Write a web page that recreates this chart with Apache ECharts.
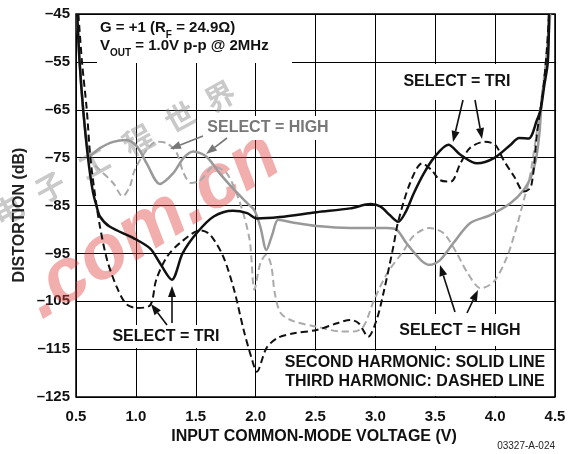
<!DOCTYPE html>
<html>
<head>
<meta charset="utf-8">
<script src="https://cdn.jsdelivr.net/npm/echarts@6/dist/echarts.min.js"></script>
<style>
html,body{margin:0;padding:0;background:#fff;}
#chart{width:575px;height:454px;}
</style>
</head>
<body>
<div id="chart"></div>
<script>
// ---- data (x = input common-mode voltage V, y = distortion dB) ----
const xTicks = [0.5, 1.0, 1.5, 2.0, 2.5, 3.0, 3.5, 4.0, 4.5];
const yTicks = [-125, -115, -105, -95, -85, -75, -65, -55, -45];

// SELECT = TRI, second harmonic (solid black)
const triSecond = [[0.51,-45],[0.53,-55],[0.56,-65],[0.60,-75],[0.64,-82],[0.67,-85],[0.70,-87.3],[0.78,-89.4],[0.98,-91.8],[1.12,-94],[1.20,-97],[1.30,-100.5],[1.39,-95],[1.51,-90.7],[1.65,-87.3],[1.81,-86.1],[1.93,-86.6],[2.01,-87.7],[2.20,-87.4],[2.51,-86.4],[2.79,-85.6],[2.96,-84.7],[3.04,-85.2],[3.12,-87],[3.19,-88.4],[3.25,-86.5],[3.32,-82.5],[3.40,-78.5],[3.49,-75],[3.61,-72.3],[3.71,-74.4],[3.85,-76.2],[3.99,-75.1],[4.13,-72.3],[4.20,-70.9],[4.28,-71],[4.35,-67.1],[4.38,-65],[4.41,-60],[4.44,-55],[4.45,-45]];
// SELECT = TRI, third harmonic (dashed black)
const triThird = [[0.52,-45],[0.55,-55],[0.59,-65],[0.62,-75],[0.66,-83],[0.70,-89.4],[0.76,-96.4],[0.84,-102],[0.92,-105.6],[1.01,-106.4],[1.12,-105.8],[1.17,-100.5],[1.26,-95.7],[1.37,-92.8],[1.54,-90.2],[1.62,-91.1],[1.73,-95.7],[1.82,-102.6],[1.90,-111],[1.97,-117.2],[2.01,-119.7],[2.09,-114.8],[2.18,-112.7],[2.32,-111.7],[2.51,-111],[2.68,-109.6],[2.79,-108.9],[2.86,-109.6],[2.94,-112.4],[3.01,-108.9],[3.07,-103],[3.15,-93.6],[3.19,-88.4],[3.29,-80.3],[3.39,-76.2],[3.47,-77.6],[3.54,-79.7],[3.63,-80],[3.71,-76.2],[3.79,-73],[3.91,-71.7],[4.00,-72.3],[4.07,-75.5],[4.16,-79],[4.24,-82.1],[4.30,-81.1],[4.35,-69.9],[4.40,-61],[4.43,-53],[4.45,-45]];
// SELECT = HIGH, second harmonic (solid gray)
const highSecond = [[0.51,-45],[0.53,-55],[0.56,-65],[0.59,-72],[0.62,-74.5],[0.70,-73],[0.81,-71.7],[0.92,-71.3],[1.01,-72.7],[1.09,-76.2],[1.20,-80.5],[1.31,-78.3],[1.40,-75],[1.48,-73.7],[1.59,-74.8],[1.70,-78.3],[1.82,-81.7],[1.93,-84.5],[1.99,-86],[2.04,-89.5],[2.09,-94.3],[2.14,-91],[2.19,-88],[2.32,-88.6],[2.51,-89.3],[2.79,-89.7],[3.10,-89.7],[3.18,-90.1],[3.26,-92.9],[3.38,-96.4],[3.45,-97.4],[3.54,-96.4],[3.65,-92.9],[3.79,-88.7],[3.96,-87],[4.13,-84.5],[4.24,-81.7],[4.30,-79],[4.34,-75.5],[4.37,-69.9],[4.39,-63],[4.43,-55],[4.46,-45]];
// SELECT = HIGH, third harmonic (dashed gray)
const highThird = [[0.51,-45],[0.53,-55],[0.56,-65],[0.59,-71],[0.62,-75.5],[0.70,-77.6],[0.81,-80.3],[0.89,-83.1],[0.95,-81],[0.99,-77.6],[1.09,-73.4],[1.17,-71.7],[1.26,-72],[1.34,-74],[1.40,-78.3],[1.46,-80.3],[1.54,-79.7],[1.65,-76.9],[1.76,-78.3],[1.87,-84.5],[1.95,-92.2],[1.99,-102.6],[2.04,-97],[2.09,-95.3],[2.13,-97.5],[2.16,-103.3],[2.21,-107.5],[2.32,-109.2],[2.51,-110.3],[2.71,-111.3],[2.82,-111.3],[2.90,-110.3],[2.99,-104.7],[3.10,-99.1],[3.24,-94.3],[3.32,-91.3],[3.45,-89.7],[3.57,-90.8],[3.68,-95],[3.77,-99.1],[3.88,-102.3],[3.99,-100.9],[4.10,-95.7],[4.18,-89.4],[4.24,-83.8],[4.29,-79],[4.34,-71],[4.39,-62],[4.43,-53],[4.45,-45]];

const FONT = 'Liberation Sans, Arial, Helvetica, sans-serif';
const chart = echarts.init(document.getElementById('chart'), null, {renderer: 'canvas'});

function arrow(x1, y1, x2, y2, color) {
  const dx = x2 - x1, dy = y2 - y1, L = Math.sqrt(dx*dx + dy*dy);
  const ux = dx / L, uy = dy / L, hl = 11, hw = 4;
  const bx = x2 - ux*hl, by = y2 - uy*hl;
  return [
    {type: 'line', z: 20, shape: {x1: x1, y1: y1, x2: bx, y2: by}, style: {stroke: color, lineWidth: 1.6}},
    {type: 'polygon', z: 20, shape: {points: [[x2, y2], [bx - uy*hw, by + ux*hw], [bx + uy*hw, by - ux*hw]]}, style: {fill: color}}
  ];
}
function whiteBox(x, y, w, h) {
  return {type: 'rect', z: 1, shape: {x: x, y: y, width: w, height: h}, style: {fill: '#fff'}};
}
function label(text, x, y, color, size, align) {
  return {type: 'text', z: 21, x: x, y: y, style: {text: text, fill: color, font: 'bold ' + (size || 16) + 'px ' + FONT, align: align || 'center', verticalAlign: 'middle'}};
}

const wmChars = ['电', '子', '工', '程', '世', '界'];
const wmPos = [[8, 210], [50, 187], [94, 163], [138, 140], [180, 117], [220, 96]];
const watermark = wmChars.map((c, i) => ({
  type: 'text', z: 1, x: wmPos[i][0], y: wmPos[i][1], rotation: 0.5,
  style: {text: c, fill: 'rgba(120,120,120,0.4)', font: 'bold 30px "Noto Sans CJK SC", sans-serif', align: 'center', verticalAlign: 'middle'}
}));
watermark.push({
  type: 'text', z: 1, x: 152, y: 226, rotation: 0.56,
  style: {text: '.com.cn', fill: 'rgba(225,60,60,0.42)', font: 'italic bold 76px ' + FONT, align: 'center', verticalAlign: 'middle'}
});

const graphics = [].concat(
  watermark,
  [
    whiteBox(97, 15, 195, 48),
    whiteBox(204, 116, 127, 24),
    whiteBox(398, 64, 118, 36),
    whiteBox(110, 325, 112, 23),
    whiteBox(396, 314, 128, 32),
    whiteBox(263, 350.5, 291, 45.5),
    {type: 'text', z: 21, x: 100, y: 30, style: {
      text: '{a|G = +1 (R}{s|F}{a| = 24.9Ω)}', align: 'left', verticalAlign: 'middle',
      rich: {a: {font: 'bold 15px ' + FONT, fill: '#111', lineHeight: 20, verticalAlign: 'top'},
             s: {font: 'bold 10px ' + FONT, fill: '#111', lineHeight: 11, verticalAlign: 'bottom'}}}},
    {type: 'text', z: 21, x: 100, y: 48, style: {
      text: '{a|V}{s|OUT}{a| = 1.0V p-p @ 2MHz}', align: 'left', verticalAlign: 'middle',
      rich: {a: {font: 'bold 15px ' + FONT, fill: '#111', lineHeight: 20, verticalAlign: 'top'},
             s: {font: 'bold 10px ' + FONT, fill: '#111', lineHeight: 11, verticalAlign: 'bottom'}}}},
    label('SELECT = HIGH', 268, 128, '#777'),
    label('SELECT = TRI', 457, 82, '#111'),
    label('SELECT = TRI', 166, 337, '#111'),
    label('SELECT = HIGH', 460, 331, '#111'),
    label('SECOND HARMONIC: SOLID LINE', 415, 363, '#111'),
    label('THIRD HARMONIC: DASHED LINE', 415, 382, '#111'),
    label('INPUT COMMON-MODE VOLTAGE (V)', 314, 437, '#111'),
    {type: 'text', z: 21, x: 20, y: 215, rotation: Math.PI / 2, style: {text: 'DISTORTION (dB)', fill: '#222', font: 'bold 16px ' + FONT, align: 'center', verticalAlign: 'middle'}},
    {type: 'text', z: 21, x: 555, y: 446, style: {text: '03327-A-024', fill: '#222', font: '10px ' + FONT, align: 'right', verticalAlign: 'middle'}}
  ],
  arrow(203, 136, 170, 149, '#777'),
  arrow(227, 138, 206, 154, '#777'),
  arrow(463, 100, 453, 142, '#111'),
  arrow(475, 100, 482, 139, '#111'),
  arrow(167, 325, 151, 304, '#111'),
  arrow(172, 323, 172, 286, '#111'),
  arrow(455, 312, 440, 265, '#111'),
  arrow(467, 313, 478, 290, '#111')
);

function mk(name, data, color, width, dashed, z) {
  return {
    name: name, type: 'line', data: data, smooth: 0.3, symbol: 'none', z: z,
    lineStyle: {color: color, width: width, type: dashed ? [7, 4] : 'solid'},
    animation: false
  };
}

chart.setOption({
  animation: false,
  backgroundColor: '#fff',
  grid: {left: 76, right: 20, top: 14, bottom: 57, show: true, borderColor: '#000', borderWidth: 1.5, backgroundColor: 'transparent'},
  xAxis: {
    type: 'value', min: xTicks[0], max: xTicks[xTicks.length - 1], interval: 0.5,
    axisLine: {show: false}, axisTick: {show: false},
    splitLine: {show: true, lineStyle: {color: '#000', width: 1}},
    axisLabel: {margin: 12, color: '#111', fontFamily: FONT, fontWeight: 'bold', fontSize: 15, formatter: v => v.toFixed(1)}
  },
  yAxis: {
    type: 'value', min: yTicks[0], max: yTicks[yTicks.length - 1], interval: 10,
    axisLine: {show: false}, axisTick: {show: false},
    splitLine: {show: true, lineStyle: {color: '#000', width: 1}},
    axisLabel: {margin: 6, color: '#111', fontFamily: FONT, fontWeight: 'bold', fontSize: 15, formatter: v => String(v).replace('-', '–')}
  },
  graphic: graphics,
  series: [
    mk('HIGH third', highThird, '#aaa', 2, true, 3),
    mk('HIGH second', highSecond, '#999', 2.5, false, 4),
    mk('TRI third', triThird, '#111', 2, true, 5),
    mk('TRI second', triSecond, '#111', 2.5, false, 6)
  ]
});
</script>
</body>
</html>
